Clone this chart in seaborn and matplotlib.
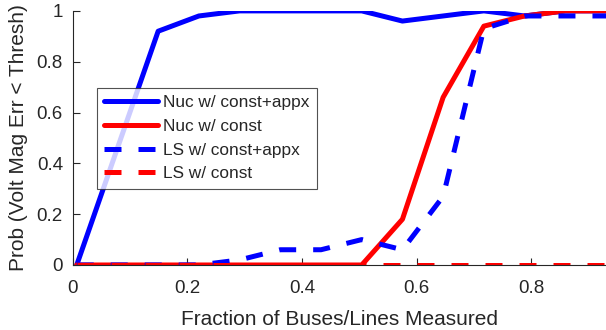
import matplotlib
matplotlib.use("Agg")
import matplotlib.pyplot as plt
import seaborn as sns

# fraction of buses/lines measured
frac = [0.007, 0.078, 0.149, 0.220, 0.291, 0.362, 0.433, 0.504,
        0.575, 0.646, 0.717, 0.788, 0.859, 0.930]

nuc_const_appx = [0.0, 0.46, 0.92, 0.98, 1.0, 1.0, 1.0, 1.0,
                  0.96, 0.98, 1.0, 0.98, 1.0, 1.0]
nuc_const = [0.0, 0.0, 0.0, 0.0, 0.0, 0.0, 0.0, 0.0,
             0.18, 0.66, 0.94, 0.98, 1.0, 1.0]
ls_const_appx = [0.0, 0.0, 0.0, 0.0, 0.02, 0.06, 0.06, 0.10,
                 0.06, 0.27, 0.93, 0.98, 0.98, 0.98]
ls_const = [0.0] * 14

series_names = ["Nuc w/ const+appx", "Nuc w/ const",
                "LS w/ const+appx", "LS w/ const"]
series_values = [nuc_const_appx, nuc_const, ls_const_appx, ls_const]
series_colors = ["#0000ff", "#ff0000", "#0000ff", "#ff0000"]
series_styles = ["-", "-", (0, (3.4, 3.4)), (0, (3.4, 3.4))]

x_ticks = [0, 0.2, 0.4, 0.6, 0.8]
x_tick_labels = ["0", "0.2", "0.4", "0.6", "0.8"]
y_ticks = [0, 0.2, 0.4, 0.6, 0.8, 1]
y_tick_labels = ["0", "0.2", "0.4", "0.6", "0.8", "1"]

sns.set_theme(style="white")
plt.rcParams["font.family"] = ["Liberation Sans", "DejaVu Sans"]

fig = plt.figure(figsize=(6.06, 3.30), dpi=100)
ax = fig.add_axes([0.12, 0.197, 0.88, 0.770])

for name, vals, col, ls in zip(series_names, series_values,
                               series_colors, series_styles):
    sns.lineplot(x=frac, y=vals, color=col, linestyle=ls, linewidth=3.6,
                 label=name, ax=ax, estimator=None, sort=False)

ax.set_xlim(0, 0.93)
ax.set_ylim(0, 1)
ax.set_xticks(x_ticks)
ax.set_xticklabels(x_tick_labels)
ax.set_yticks(y_ticks)
ax.set_yticklabels(y_tick_labels)
ax.set_xlabel("Fraction of Buses/Lines Measured", fontsize=15,
              color="#262626", labelpad=9)
ax.set_ylabel("Prob (Volt Mag Err < Thresh)", fontsize=15,
              color="#262626", labelpad=6)
ax.tick_params(axis="x", direction="in", length=5, width=0.8,
               colors="#262626", labelsize=13.5, pad=11,
               bottom=True, top=False)
ax.tick_params(axis="y", direction="in", length=5, width=0.8,
               colors="#262626", labelsize=13.5, pad=7,
               left=True, right=False)
for side in ["top", "right"]:
    ax.spines[side].set_visible(False)
for side in ["left", "bottom"]:
    ax.spines[side].set_color("#262626")
    ax.spines[side].set_linewidth(0.8)

leg = ax.legend(loc="upper left", bbox_to_anchor=(0.045, 0.698),
                fontsize=12.4, frameon=True, fancybox=False,
                handlelength=3.1, handletextpad=0.3, borderpad=0.45,
                labelspacing=0.5, borderaxespad=0)
leg.get_frame().set_edgecolor("#262626")
leg.get_frame().set_linewidth(0.8)
for line in leg.get_lines():
    line.set_linewidth(3.6)

fig.savefig("out.png", dpi=100)
